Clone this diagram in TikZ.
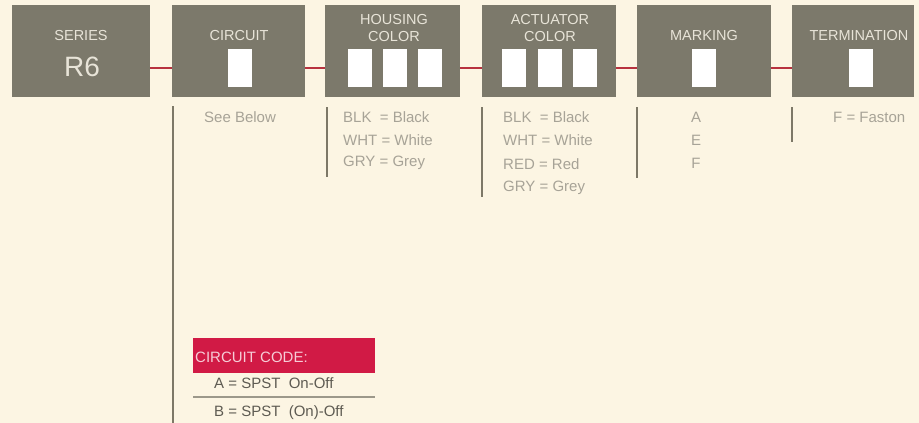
\documentclass[tikz,border=0pt]{standalone}
\usepackage{fontspec}
\setmainfont{Liberation Sans}
\begin{document}
\begin{tikzpicture}[x=1pt,y=-1pt,
  box/.style={fill=boxgray, draw=none, minimum height=92pt, inner sep=0pt, anchor=north west},
  slot/.style={fill=white, draw=none, minimum width=24pt, minimum height=38pt, inner sep=0pt},
  lab/.style={text=boxtext, inner sep=0pt, font=\fontsize{14.5}{17}\selectfont, align=center},
  conn/.style={draw=connred, line width=2.6pt},
  vline/.style={draw=linegray, line width=1.8pt},
  desc/.style={text=desctext, inner sep=0pt, anchor=west, font=\fontsize{15}{18}\selectfont},
  code/.style={text=codetext, inner sep=0pt, anchor=west, font=\fontsize{15}{18}\selectfont}
]
\definecolor{bg}{HTML}{FCF5E3}
\definecolor{boxgray}{HTML}{7C796B}
\definecolor{boxtext}{HTML}{E8E4D8}
\definecolor{connred}{HTML}{B8323F}
\definecolor{linegray}{HTML}{7D7867}
\definecolor{desctext}{HTML}{A7A397}
\definecolor{codered}{HTML}{D11A45}
\definecolor{codehead}{HTML}{F6CCD6}
\definecolor{codetext}{HTML}{5E5B52}
\definecolor{seprule}{HTML}{9C988A}

\fill[bg] (0,0) rectangle (919,423);
\useasboundingbox (0,0) rectangle (919,423);

% boxes
\node[box, minimum width=138pt] (series) at (12,5) {};
\node[box, minimum width=133pt] (circuit) at (172,5) {};
\node[box, minimum width=135pt] (housing) at (325,5) {};
\node[box, minimum width=134pt] (actuator) at (482,5) {};
\node[box, minimum width=134pt] (marking) at (637,5) {};
\node[box, minimum width=122pt] (termination) at (792,5) {};

% box labels
\node[lab] (seriesl) at (81,36) {SERIES};
\node[lab, font=\fontsize{28}{32}\selectfont] (r6) at (82,67) {R6};
\node[lab] (circuitl) at (239,36) {CIRCUIT};
\node[lab] (housingl1) at (394,20) {HOUSING};
\node[lab] (housingl2) at (394,37) {COLOR};
\node[lab] (actuatorl1) at (550,20) {ACTUATOR};
\node[lab] (actuatorl2) at (550,37) {COLOR};
\node[lab] (markingl) at (704,36) {MARKING};
\node[lab] (terminationl) at (859,36) {TERMINATION};

% slots
\node[slot] (s1) at (240,68) {};
\node[slot] (s2) at (360,68) {};
\node[slot] (s3) at (395,68) {};
\node[slot] (s4) at (430,68) {};
\node[slot] (s5) at (514,68) {};
\node[slot] (s6) at (550,68) {};
\node[slot] (s7) at (585,68) {};
\node[slot] (s8) at (704,68) {};
\node[slot] (s9) at (861,68) {};

% connectors
\coordinate (cy) at (0,68);
\draw[conn] (series.east |- cy) -- (circuit.west |- cy);
\draw[conn] (circuit.east |- cy) -- (housing.west |- cy);
\draw[conn] (housing.east |- cy) -- (actuator.west |- cy);
\draw[conn] (actuator.east |- cy) -- (marking.west |- cy);
\draw[conn] (marking.east |- cy) -- (termination.west |- cy);

% vertical lines
\coordinate (v1a) at (173,106); \coordinate (v1b) at (173,423);
\coordinate (v2a) at (327,107); \coordinate (v2b) at (327,177);
\coordinate (v3a) at (482,107); \coordinate (v3b) at (482,197);
\coordinate (v4a) at (637,107); \coordinate (v4b) at (637,178);
\coordinate (v5a) at (792,107); \coordinate (v5b) at (792,142);
\draw[vline] (v1a) -- (v1b);
\draw[vline] (v2a) -- (v2b);
\draw[vline] (v3a) -- (v3b);
\draw[vline] (v4a) -- (v4b);
\draw[vline] (v5a) -- (v5b);

% descriptions
\node[desc] (d1) at (204,117) {See Below};
\node[desc] (h1) at (343,117) {BLK\ \ = Black};
\node[desc] (h2) at (343,140) {WHT = White};
\node[desc] (h3) at (343,163) {GRY = Grey};
\node[desc] (a1) at (503,117) {BLK\ \ = Black};
\node[desc] (a2) at (503,140) {WHT = White};
\node[desc] (a3) at (503,164) {RED = Red};
\node[desc] (a4) at (503,188) {GRY = Grey};
\node[desc, anchor=center] (m1) at (696,117) {A};
\node[desc, anchor=center] (m2) at (696,140) {E};
\node[desc, anchor=center] (m3) at (696,163) {F};
\node[desc] (t1) at (833,117) {F = Faston};

% circuit code
\node[fill=codered, minimum width=182pt, minimum height=35pt, inner sep=0pt, anchor=north west] (codebox) at (193,338) {};
\node[code, text=codehead] (codehd) at (195,357) {CIRCUIT CODE:};
\node[code] (ca) at (214,383) {A = SPST\ \ On-Off};
\coordinate (sepl) at (193,397); \coordinate (sepr) at (375,397);
\draw[draw=seprule, line width=1.2pt] (sepl) -- (sepr);
\node[code] (cb) at (214,413) {B = SPST\ \ (On)-Off};
\end{tikzpicture}
\end{document}
